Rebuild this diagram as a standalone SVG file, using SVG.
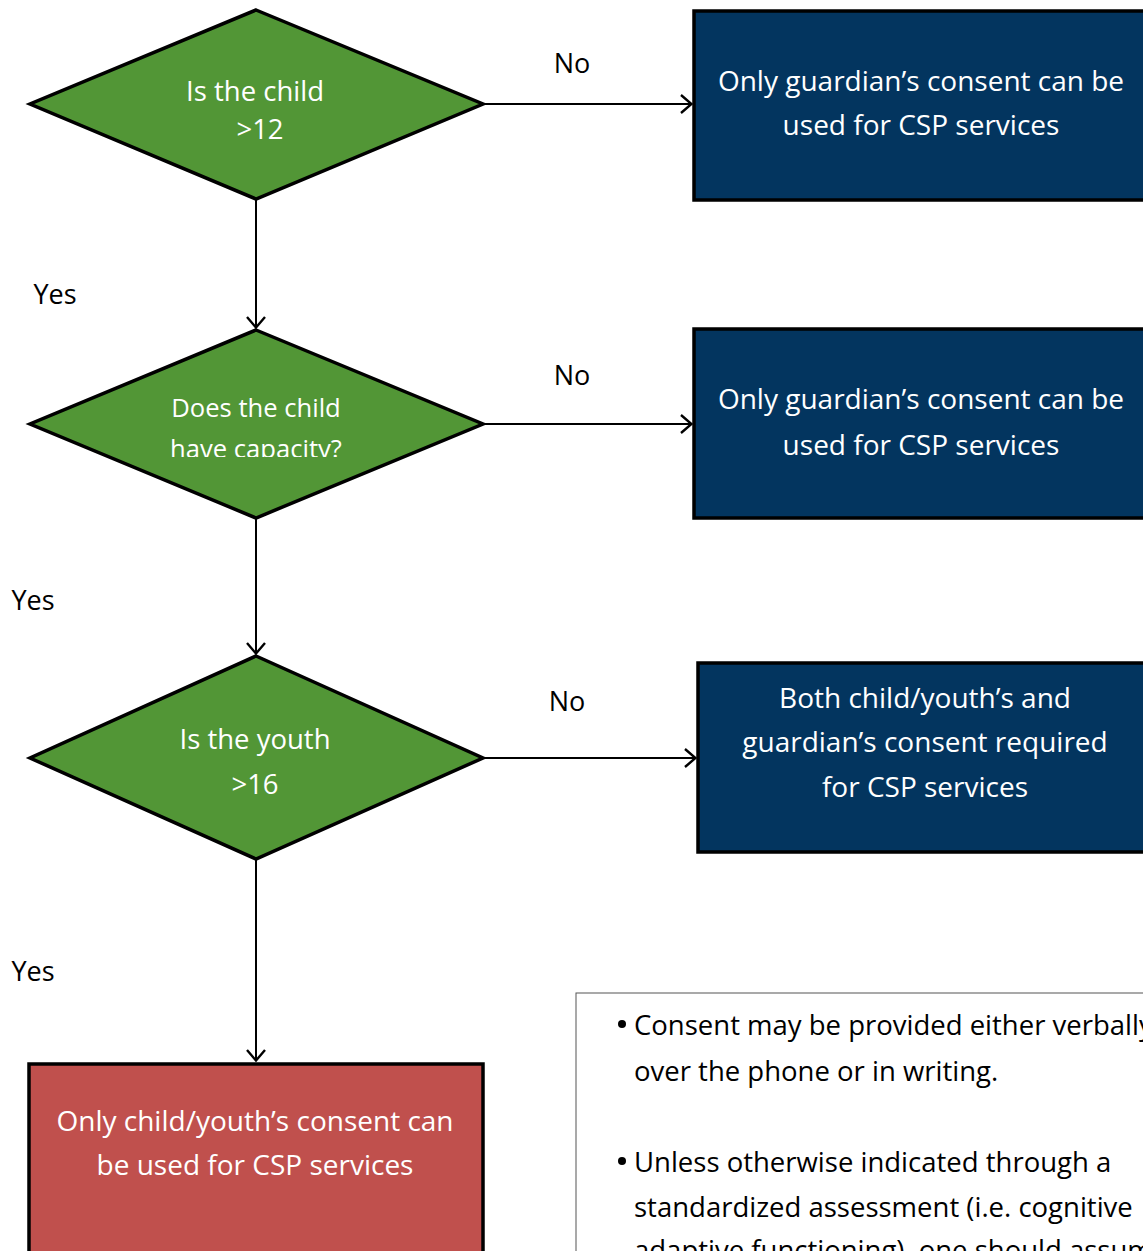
<svg xmlns="http://www.w3.org/2000/svg" width="1143" height="1251" viewBox="0 0 1143 1251">
<style>
text{font-family:"Open Sans","Liberation Sans",sans-serif;}
.w{fill:#fff;font-size:28px;text-anchor:middle;}
.d{font-size:27.5px;}
.s{font-size:25.6px;}
.k{fill:#000;font-size:27px;}
.n{fill:#000;font-size:27.5px;}
.dia{fill:#529636;stroke:#000;stroke-width:3.5;stroke-linejoin:miter;}
.blue{fill:#03355f;stroke:#000;stroke-width:3.5;}
.red{fill:#c0504d;stroke:#000;stroke-width:3.5;}
.con{stroke:#000;stroke-width:2;fill:none;}
</style>
<defs>
<marker id="arr" viewBox="0 0 14 22" refX="13" refY="11" markerWidth="14" markerHeight="22" markerUnits="userSpaceOnUse" orient="auto">
<path d="M2,2 L12.5,11 L2,20" fill="none" stroke="#000" stroke-width="2.4"/>
</marker>
<clipPath id="clip2"><rect x="0" y="380" width="500" height="77"/></clipPath>
</defs>
<g id="connectors">
<line class="con" x1="483" y1="104" x2="692" y2="104" marker-end="url(#arr)"/>
<line class="con" x1="256" y1="199" x2="256" y2="328" marker-end="url(#arr)"/>
<line class="con" x1="483" y1="424" x2="692" y2="424" marker-end="url(#arr)"/>
<line class="con" x1="256" y1="518" x2="256" y2="654" marker-end="url(#arr)"/>
<line class="con" x1="483" y1="758" x2="696" y2="758" marker-end="url(#arr)"/>
<line class="con" x1="256" y1="859" x2="256" y2="1061" marker-end="url(#arr)"/>
<text class="k" x="572" y="73" text-anchor="middle">No</text>
<text class="k" x="572" y="385" text-anchor="middle">No</text>
<text class="k" x="567" y="711" text-anchor="middle">No</text>
<text class="k" x="55" y="304" text-anchor="middle">Yes</text>
<text class="k" x="33" y="610" text-anchor="middle">Yes</text>
<text class="k" x="33" y="981" text-anchor="middle">Yes</text>
</g>
<g id="q1">
<polygon class="dia" points="256,10 483,104 256,199 30,104"/>
<text class="w d" x="255" y="101">Is the child</text>
<text class="w d" x="260" y="139">&gt;12</text>
</g>
<g id="q2">
<polygon class="dia" points="256,330 483,424 256,518 30,424"/>
<text class="w s" x="256" y="417">Does the child</text>
<text class="w s" x="256" y="458" clip-path="url(#clip2)">have capacity?</text>
</g>
<g id="q3">
<polygon class="dia" points="256,656 483,758 256,859 30,758"/>
<text class="w d" x="255" y="749">Is the youth</text>
<text class="w d" x="255" y="794">&gt;16</text>
</g>
<g id="a1">
<rect class="blue" x="694" y="11" width="460" height="189"/>
<text class="w" x="921" y="91">Only guardian’s consent can be</text>
<text class="w" x="921" y="135">used for CSP services</text>
</g>
<g id="a2">
<rect class="blue" x="694" y="329" width="460" height="189"/>
<text class="w" x="921" y="409">Only guardian’s consent can be</text>
<text class="w" x="921" y="455">used for CSP services</text>
</g>
<g id="a3">
<rect class="blue" x="698" y="663" width="460" height="189"/>
<text class="w" x="925" y="708">Both child/youth’s and</text>
<text class="w" x="925" y="752">guardian’s consent required</text>
<text class="w" x="925" y="797">for CSP services</text>
</g>
<g id="a4">
<rect class="red" x="29" y="1064" width="454" height="200"/>
<text class="w" x="255" y="1131">Only child/youth’s consent can</text>
<text class="w" x="255" y="1175">be used for CSP services</text>
</g>
<g id="note">
<rect x="576" y="993" width="600" height="300" fill="#fff" stroke="#555" stroke-width="1"/>
<circle cx="622" cy="1024" r="4" fill="#000"/>
<text class="n" x="634" y="1035">Consent may be provided either verbally</text>
<text class="n" x="634" y="1081">over the phone or in writing.</text>
<circle cx="622" cy="1161" r="4" fill="#000"/>
<text class="n" x="634" y="1172">Unless otherwise indicated through a</text>
<text class="n" x="634" y="1217">standardized assessment (i.e. cognitive</text>
<text class="n" x="634" y="1260">adaptive functioning), one should assume</text>
</g>
</svg>
